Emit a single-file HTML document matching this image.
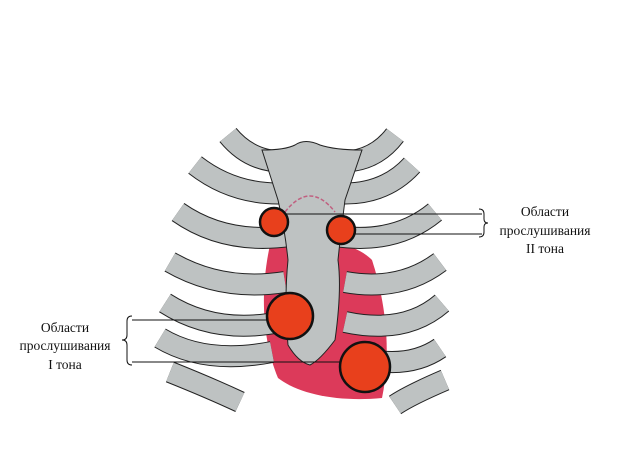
<!DOCTYPE html>
<html><head><meta charset="utf-8"><style>
html,body{margin:0;padding:0;background:#fff;width:617px;height:452px;overflow:hidden}
svg{display:block}
text{font-family:"Liberation Serif",serif;font-size:13.5px;fill:#111}
</style></head><body>
<svg width="617" height="452" viewBox="0 0 617 452">
<!-- heart -->
<path d="M270,245 C300,235 350,238 372,260 C385,300 392,350 382,398 C340,402 300,395 278,378 C262,340 260,290 270,245Z" fill="#dc3a5a"/>
<g fill="none" stroke-linecap="butt">
<g stroke="#222" stroke-width="22">
<path d="M228,135 Q255,168 300,160"/><path d="M395,135 Q370,168 325,160"/>
<path d="M195,165 Q240,200 300,192"/><path d="M412,165 Q380,200 325,192"/>
<path d="M178,212 Q225,245 290,236"/><path d="M435,212 Q395,245 335,236"/>
<path d="M170,262 Q222,292 285,282"/><path d="M440,262 Q400,292 345,282"/>
<path d="M165,303 Q215,335 280,322"/><path d="M442,303 Q405,335 345,322"/>
<path d="M160,338 Q205,365 272,352"/><path d="M440,348 Q405,372 350,355"/>
<path d="M170,372 Q210,388 240,402"/><path d="M445,380 Q410,395 395,405"/>
</g>
<g stroke="#bec2c2" stroke-width="20">
<path d="M228,135 Q255,168 300,160"/><path d="M395,135 Q370,168 325,160"/>
<path d="M195,165 Q240,200 300,192"/><path d="M412,165 Q380,200 325,192"/>
<path d="M178,212 Q225,245 290,236"/><path d="M435,212 Q395,245 335,236"/>
<path d="M170,262 Q222,292 285,282"/><path d="M440,262 Q400,292 345,282"/>
<path d="M165,303 Q215,335 280,322"/><path d="M442,303 Q405,335 345,322"/>
<path d="M160,338 Q205,365 272,352"/><path d="M440,348 Q405,372 350,355"/>
<path d="M170,372 Q210,388 240,402"/><path d="M445,380 Q410,395 395,405"/>
</g>
</g>
<!-- sternum -->
<path d="M262,150 Q285,150 295,145 Q305,138 320,145 Q335,150 362,150 L345,200 Q340,240 338,260 Q342,290 335,340 Q320,360 310,365 Q298,362 288,345 Q284,300 288,260 Q285,230 278,200Z" fill="#bec2c2" stroke="#222" stroke-width="1"/>
<path d="M285,212 Q310,180 335,212" fill="none" stroke="#c06080" stroke-width="1.5" stroke-dasharray="4,2"/>
<!-- lines -->
<g stroke="#111" stroke-width="1" fill="none">
<line x1="280" y1="214" x2="482" y2="214"/><line x1="350" y1="234" x2="482" y2="234"/>
<line x1="132" y1="320" x2="290" y2="320"/><line x1="132" y1="362" x2="365" y2="362"/>
<path d="M479,209 Q484,209 484,214 L484,219 Q484,223 488,223 Q484,223 484,227 L484,232 Q484,237 479,237"/>
<path d="M132,316 Q127,316 127,321 L127,335 Q127,340 122,340 Q127,340 127,345 L127,360 Q127,365 132,365"/>
</g>
<g fill="#e8401c" stroke="#111" stroke-width="2.5">
<circle cx="274" cy="222" r="14"/><circle cx="341" cy="230" r="14"/>
<circle cx="290" cy="316" r="23"/><circle cx="365" cy="367" r="25"/>
</g>
<text x="545" y="216" text-anchor="middle">Области</text>
<text x="545" y="235" text-anchor="middle">прослушивания</text>
<text x="545" y="253" text-anchor="middle">II тона</text>
<text x="65" y="332" text-anchor="middle">Области</text>
<text x="65" y="350" text-anchor="middle">прослушивания</text>
<text x="65" y="369" text-anchor="middle">I тона</text>
</svg>
</body></html>
